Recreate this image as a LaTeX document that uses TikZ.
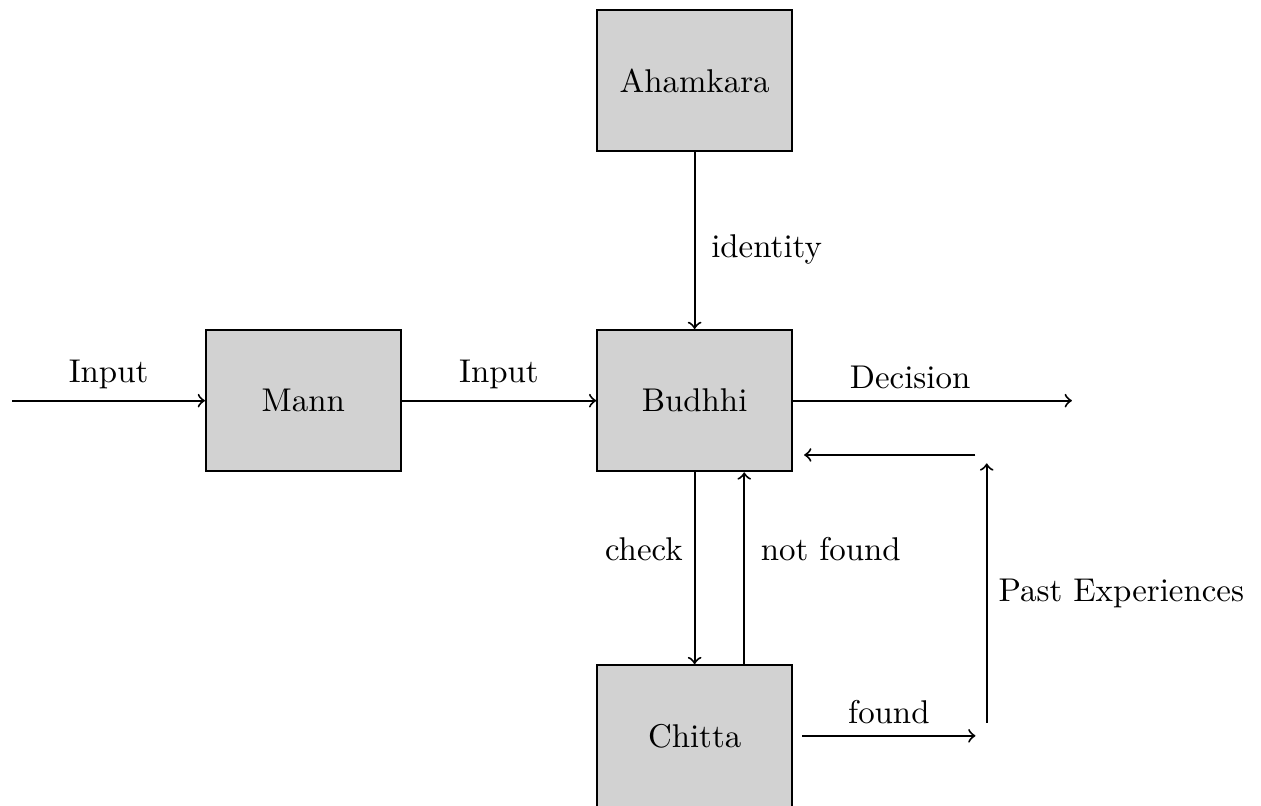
\documentclass[tikz,border=0pt]{standalone}
\begin{document}
\begin{tikzpicture}
        [block/.style={rectangle,draw,semithick,fill=gray!35,minimum width=2.08cm,minimum height=1.51cm},
        link/.style={semithick,->}]
        \useasboundingbox (0,0) rectangle (13.47,-8.6);
        \node[block] (Ahamkara) at (7.42,-0.86) {Ahamkara};
        \node[block] (Mann) at (3.24,-4.28) {Mann};
        \node[block] (Budhhi) at (7.42,-4.28) {Budhhi};
        \node[block] (Chitta) at (7.42,-7.86) {Chitta};
        
        \coordinate (In) at (0.13,-4.28);
        \coordinate (Out) at (11.45,-4.28);
        \coordinate (FoundStart) at (8.57,-7.86);
        \coordinate (FoundEnd) at (10.42,-7.86);
        \coordinate (PastStart) at (10.54,-7.72);
        \coordinate (PastEnd) at (10.54,-4.95);
        \coordinate (BackStart) at (10.42,-4.86);
        \coordinate (BackEnd) at (8.59,-4.86);
        
        \draw[link] (In) -- (Mann) node[midway, above] {Input};
        \draw[link] (Mann) -- (Budhhi) node[midway, above] {Input};
        \draw[link] (Budhhi) -- (Out) node[pos=0.42, above] {Decision};
        \draw[link] (Ahamkara) -- (Budhhi) node[pos=0.55, right, xshift=0.05cm] {identity};
        \draw[link] (Budhhi) -- (Chitta) node[pos=0.4, left] {check};
        \draw[link] ([xshift=0.53cm]Chitta.north) -- ([xshift=0.53cm]Budhhi.south) node[pos=0.6, right, xshift=0.05cm] {not found};
        \draw[link] (FoundStart) -- (FoundEnd) node[midway, above] {found};
        \draw[link] (PastStart) -- (PastEnd) node[midway, right] {Past Experiences};
        \draw[link] (BackStart) -- (BackEnd);
    
    \end{tikzpicture}
\end{document}
